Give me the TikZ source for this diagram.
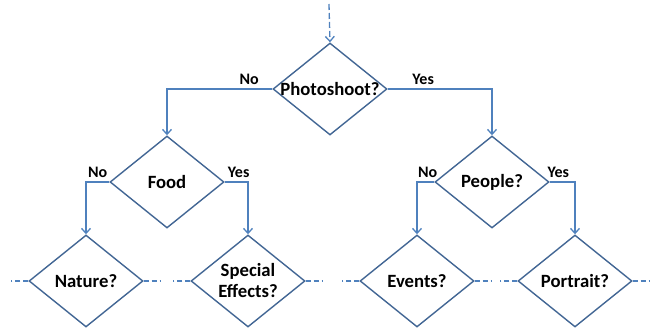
\documentclass[tikz,border=0pt]{standalone}
\usepackage{fontspec}
\setmainfont{Carlito}
\usetikzlibrary{positioning, shapes.geometric, arrows.meta}
\definecolor{diaedge}{RGB}{66,102,148}
\definecolor{linkblue}{RGB}{79,129,189}

\begin{document}
\begin{tikzpicture}
	[x=1pt, y=-1pt,
	 dq/.style={draw=diaedge, line width=1.4pt, diamond, aspect=1.24,
	            minimum width=114pt, minimum height=92pt, inner sep=-4pt,
	            align=center, font=\fontsize{18.7}{21}\selectfont\bfseries},
	 ln/.style={draw=linkblue, line width=1.3pt,
	            -{Straight Barb[length=5pt, width=9pt, line width=1.3pt]}},
	 stub/.style={draw=linkblue, line width=1.3pt, dash pattern=on 5pt off 3pt},
	 lbl/.style={above, inner sep=4pt, font=\fontsize{16}{18}\selectfont\bfseries}]
	\useasboundingbox (0,0) rectangle (656,331);
	\node[dq] (shoot) at (330,89) {Photoshoot?};
	\node[dq] (food) at (167,182) {Food};
	\node[dq] (people) at (492,182) {People?};
	\node[dq] (nature) at (86,281) {Nature?};
	\node[dq] (special) at (248,281) {Special\\Effects?};
	\node[dq] (events) at (417,281) {Events?};
	\node[dq] (portrait) at (575,281) {Portrait?};
	\coordinate (start) at (329,4);

	\draw[ln, dash pattern=on 6pt off 3pt] (start) -- (shoot.north);
	\draw[ln] (shoot.west) -| node[lbl, pos=0.11]{No} (food.north);
	\draw[ln] (shoot.east) -| node[lbl, pos=0.17]{Yes} (people.north);
	\draw[ln] (food.west) -| node[lbl, pos=0.25]{No} (nature.north);
	\draw[ln] (food.east) -| node[lbl, pos=0.3]{Yes} (special.north);
	\draw[ln] (people.west) -| node[lbl, pos=0.19]{No} (events.north);
	\draw[ln] (people.east) -| node[lbl, pos=0.17]{Yes} (portrait.north);

	% open ends to the next level
	\foreach \n in {nature, special, events, portrait} {
		\coordinate (\n-l) at ([xshift=-17pt]\n.west);
		\coordinate (\n-r) at ([xshift=17pt]\n.east);
		\draw[stub] (\n.west) -- (\n-l);
		\draw[stub] (\n.east) -- (\n-r);
	}
\end{tikzpicture}
\end{document}
